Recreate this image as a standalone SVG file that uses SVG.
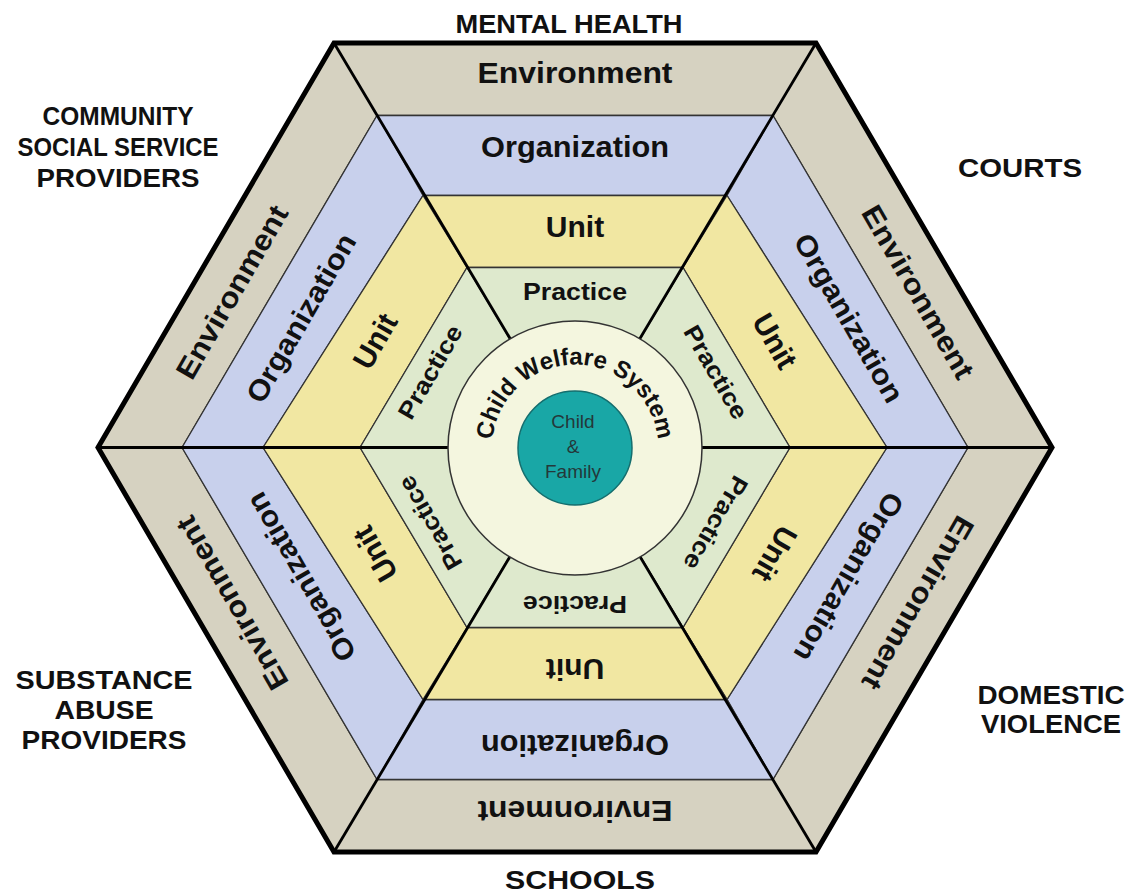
<svg xmlns="http://www.w3.org/2000/svg" xmlns:xlink="http://www.w3.org/1999/xlink" width="1127" height="896" viewBox="0 0 1127 896">
<defs>
<style>
.env{fill:#d6d2c1;stroke:#333;stroke-width:1.3}
.org{fill:#c8d0ec;stroke:#333;stroke-width:1.3}
.unit{fill:#f1e7a2;stroke:#333;stroke-width:1.3}
.prac{fill:#dee9cd;stroke:#333;stroke-width:1.3}
.rad{stroke:#000;stroke-width:2.8;fill:none}
text{font-family:"Liberation Sans",Arial,Helvetica,sans-serif;fill:#111;text-anchor:middle}
.t{font-weight:bold}
.te{font-size:29px}
.to{font-size:29px}
.tu{font-size:30px}
.tp{font-size:24px}
.out{font-size:26px;font-weight:bold}
.cf{font-size:19px;fill:#24383a}
</style>
<path id="arc" d="M 493.2 461.7 A 83 83 0 1 1 656.8 461.7"/>
</defs>
<rect width="1127" height="896" fill="#fff"/>

<g id="environment">
<g id="env-top"><polygon class="env" points="334,43 816,43 773,115.5 377,115.5"/><text class="t te" textLength="195" lengthAdjust="spacingAndGlyphs" transform="translate(575,73)" y="10">Environment</text></g>
<g id="env-ur"><polygon class="env" points="816,43 1052,447.5 968,447.5 773,115.5"/><text class="t te" textLength="195" lengthAdjust="spacingAndGlyphs" transform="translate(918,292) rotate(60)" y="10">Environment</text></g>
<g id="env-lr"><polygon class="env" points="1052,447.5 816,852 773,779.5 968,447.5"/><text class="t te" textLength="195" lengthAdjust="spacingAndGlyphs" transform="translate(918,603) rotate(120)" y="10">Environment</text></g>
<g id="env-bottom"><polygon class="env" points="816,852 334,852 377,779.5 773,779.5"/><text class="t te" textLength="195" lengthAdjust="spacingAndGlyphs" transform="translate(575,811) rotate(180)" y="10">Environment</text></g>
<g id="env-ll"><polygon class="env" points="334,852 98,447.5 182,447.5 377,779.5"/><text class="t te" textLength="195" lengthAdjust="spacingAndGlyphs" transform="translate(232,603) rotate(240)" y="10">Environment</text></g>
<g id="env-ul"><polygon class="env" points="98,447.5 334,43 377,115.5 182,447.5"/><text class="t te" textLength="195" lengthAdjust="spacingAndGlyphs" transform="translate(232,292) rotate(-60)" y="10">Environment</text></g>
</g>

<g id="organization">
<g id="org-top"><polygon class="org" points="377,115.5 773,115.5 727,195.5 423,195.5"/><text class="t to" textLength="188" lengthAdjust="spacingAndGlyphs" transform="translate(575,147)" y="10">Organization</text></g>
<g id="org-ur"><polygon class="org" points="773,115.5 968,447.5 887,447.5 727,195.5"/><text class="t to" textLength="190" lengthAdjust="spacingAndGlyphs" transform="translate(849,318) rotate(60)" y="10">Organization</text></g>
<g id="org-lr"><polygon class="org" points="968,447.5 773,779.5 727,699.5 887,447.5"/><text class="t to" textLength="190" lengthAdjust="spacingAndGlyphs" transform="translate(849,577) rotate(120)" y="10">Organization</text></g>
<g id="org-bottom"><polygon class="org" points="773,779.5 377,779.5 423,699.5 727,699.5"/><text class="t to" textLength="188" lengthAdjust="spacingAndGlyphs" transform="translate(575,745) rotate(180)" y="10">Organization</text></g>
<g id="org-ll"><polygon class="org" points="377,779.5 182,447.5 263,447.5 423,699.5"/><text class="t to" textLength="190" lengthAdjust="spacingAndGlyphs" transform="translate(301,577) rotate(240)" y="10">Organization</text></g>
<g id="org-ul"><polygon class="org" points="182,447.5 377,115.5 423,195.5 263,447.5"/><text class="t to" textLength="190" lengthAdjust="spacingAndGlyphs" transform="translate(301,318) rotate(-60)" y="10">Organization</text></g>
</g>

<g id="unit">
<g id="unit-top"><polygon class="unit" points="423,195.5 727,195.5 683,267.5 467,267.5"/><text class="t tu" transform="translate(575,226)" y="10.5">Unit</text></g>
<g id="unit-ur"><polygon class="unit" points="727,195.5 887,447.5 790,447.5 683,267.5"/><text class="t tu" transform="translate(775,341) rotate(60)" y="10.5">Unit</text></g>
<g id="unit-lr"><polygon class="unit" points="887,447.5 727,699.5 683,627.5 790,447.5"/><text class="t tu" transform="translate(775,554) rotate(120)" y="10.5">Unit</text></g>
<g id="unit-bottom"><polygon class="unit" points="727,699.5 423,699.5 467,627.5 683,627.5"/><text class="t tu" transform="translate(575,669) rotate(180)" y="10.5">Unit</text></g>
<g id="unit-ll"><polygon class="unit" points="423,699.5 263,447.5 360,447.5 467,627.5"/><text class="t tu" transform="translate(375,554) rotate(240)" y="10.5">Unit</text></g>
<g id="unit-ul"><polygon class="unit" points="263,447.5 423,195.5 467,267.5 360,447.5"/><text class="t tu" transform="translate(375,341) rotate(-60)" y="10.5">Unit</text></g>
</g>

<g id="practice">
<g id="prac-top"><polygon class="prac" points="467,267.5 683,267.5 575,447.5"/><text class="t tp" textLength="104" lengthAdjust="spacingAndGlyphs" transform="translate(575,291)" y="8.5">Practice</text></g>
<g id="prac-ur"><polygon class="prac" points="683,267.5 790,447.5 575,447.5"/><text class="t tp" textLength="104" lengthAdjust="spacingAndGlyphs" transform="translate(716,372) rotate(60)" y="8.5">Practice</text></g>
<g id="prac-lr"><polygon class="prac" points="790,447.5 683,627.5 575,447.5"/><text class="t tp" textLength="104" lengthAdjust="spacingAndGlyphs" transform="translate(716,523) rotate(120)" y="8.5">Practice</text></g>
<g id="prac-bottom"><polygon class="prac" points="683,627.5 467,627.5 575,447.5"/><text class="t tp" textLength="104" lengthAdjust="spacingAndGlyphs" transform="translate(575,604) rotate(180)" y="8.5">Practice</text></g>
<g id="prac-ll"><polygon class="prac" points="467,627.5 360,447.5 575,447.5"/><text class="t tp" textLength="104" lengthAdjust="spacingAndGlyphs" transform="translate(430,523) rotate(240)" y="8.5">Practice</text></g>
<g id="prac-ul"><polygon class="prac" points="360,447.5 467,267.5 575,447.5"/><text class="t tp" textLength="104" lengthAdjust="spacingAndGlyphs" transform="translate(430,372) rotate(-60)" y="8.5">Practice</text></g>
</g>

<g id="connectors">
<line class="rad" x1="98" y1="447.5" x2="575" y2="447.5"/>
<line class="rad" x1="1052" y1="447.5" x2="575" y2="447.5"/>
<line class="rad" x1="334" y1="43" x2="575" y2="447.5"/>
<line class="rad" x1="816" y1="43" x2="575" y2="447.5"/>
<line class="rad" x1="334" y1="852" x2="575" y2="447.5"/>
<line class="rad" x1="816" y1="852" x2="575" y2="447.5"/>
<polygon points="98,447.5 334,43 816,43 1052,447.5 816,852 334,852" fill="none" stroke="#000" stroke-width="5"/>
</g>

<g id="child-welfare-system">
<circle cx="575" cy="448" r="127" fill="#f4f6df" stroke="#333" stroke-width="1.5"/>
<text class="t" font-size="24"><textPath xlink:href="#arc" href="#arc" startOffset="50%">Child Welfare System</textPath></text>
</g>

<g id="child-family">
<circle cx="575" cy="448" r="57" fill="#19a7a6" stroke="#146e6e" stroke-width="1.5"/>
<text class="cf"><tspan x="573" y="428">Child</tspan><tspan x="573" y="453">&amp;</tspan><tspan x="573" y="478">Family</tspan></text>
</g>

<g id="context-labels">
<text class="out" x="569" y="33" textLength="227" lengthAdjust="spacingAndGlyphs">MENTAL HEALTH</text>
<text class="out" x="118" y="125" textLength="151" lengthAdjust="spacingAndGlyphs">COMMUNITY</text>
<text class="out" x="118" y="156" textLength="201" lengthAdjust="spacingAndGlyphs">SOCIAL SERVICE</text>
<text class="out" x="118" y="187" textLength="163" lengthAdjust="spacingAndGlyphs">PROVIDERS</text>
<text class="out" x="1020" y="177" textLength="124" lengthAdjust="spacingAndGlyphs">COURTS</text>
<text class="out" x="104" y="689" textLength="177" lengthAdjust="spacingAndGlyphs">SUBSTANCE</text>
<text class="out" x="104" y="719" textLength="99" lengthAdjust="spacingAndGlyphs">ABUSE</text>
<text class="out" x="104" y="749" textLength="165" lengthAdjust="spacingAndGlyphs">PROVIDERS</text>
<text class="out" x="1051" y="704" textLength="147" lengthAdjust="spacingAndGlyphs">DOMESTIC</text>
<text class="out" x="1051" y="733" textLength="140" lengthAdjust="spacingAndGlyphs">VIOLENCE</text>
<text class="out" x="580" y="889" textLength="150" lengthAdjust="spacingAndGlyphs">SCHOOLS</text>
</g>
</svg>
